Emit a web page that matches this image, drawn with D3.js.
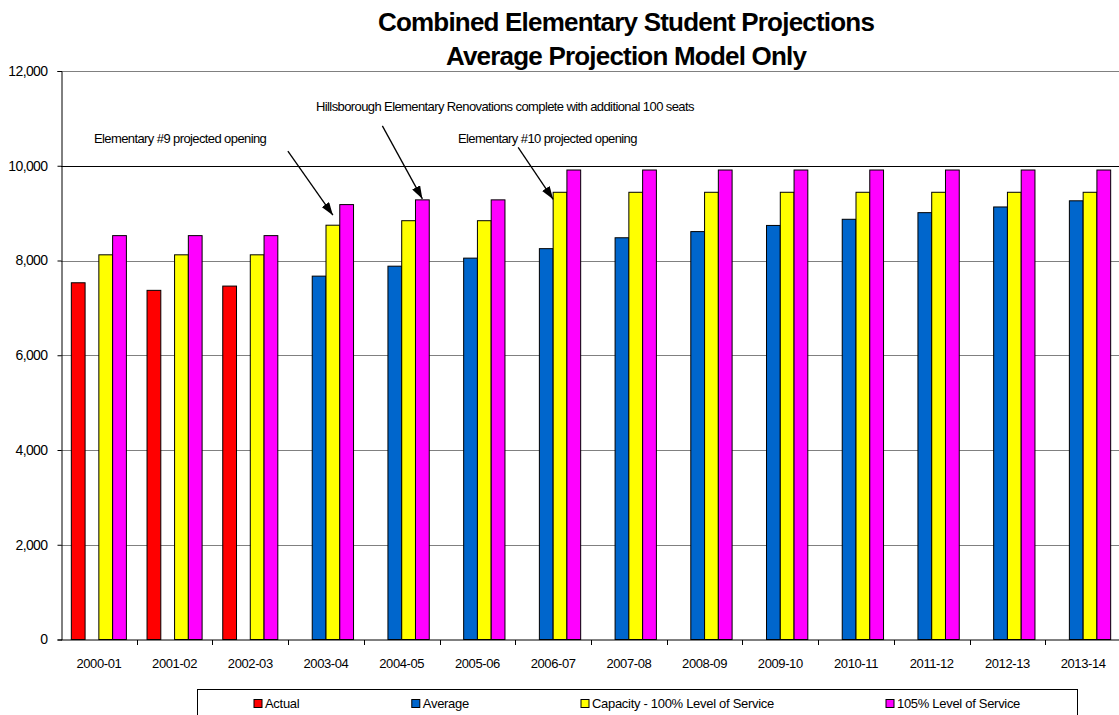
<!DOCTYPE html>
<html>
<head>
<meta charset="utf-8">
<script src="https://cdn.jsdelivr.net/npm/d3@7"></script>
<style>
  html, body { margin: 0; padding: 0; background: #fff; }
  svg { display: block; font-family: "Liberation Sans", Arial, sans-serif; }
</style>
</head>
<body>
<svg id="chart" width="1119" height="715"></svg>
<script>
// School years on the x axis
const years = ["2000-01","2001-02","2002-03","2003-04","2004-05","2005-06","2006-07",
               "2007-08","2008-09","2009-10","2010-11","2011-12","2012-13","2013-14"];

// Enrolment per year (null = no bar)
const actual   = [7530, 7370, 7460, null, null, null, null, null, null, null, null, null, null, null];
const average  = [null, null, null, 7670, 7880, 8050, 8250, 8480, 8610, 8740, 8870, 9010, 9130, 9260];
const capacity = [8120, 8120, 8120, 8745, 8840, 8840, 9440, 9440, 9440, 9440, 9440, 9440, 9440, 9440];
const los105   = [8525, 8525, 8525, 9180, 9280, 9280, 9910, 9910, 9910, 9910, 9910, 9910, 9910, 9910];

const seriesNames  = ["Actual", "Average", "Capacity - 100% Level of Service", "105% Level of Service"];
const seriesColors = ["#FF0000", "#0066CC", "#FFFF00", "#FF00FF"];
const yTicks = [0, 2000, 4000, 6000, 8000, 10000, 12000];

const titleLines = ["Combined Elementary Student Projections", "Average Projection Model Only"];

// Notes pointing at particular bars
const notes = [
  { text: "Elementary #9 projected opening", year: "2003-04", series: 2 },
  { text: "Hillsborough Elementary Renovations complete with additional 100 seats", year: "2004-05", series: 3 },
  { text: "Elementary #10 projected opening", year: "2006-07", series: 2 }
];

const seriesValues = [actual, average, capacity, los105];

const svg = d3.select("#chart");
const plot = { left: 61, right: 1121, top: 71, bottom: 639.5 };

const x0 = d3.scaleBand().domain(years).range([plot.left, plot.right]).paddingInner(0).paddingOuter(0);
const x1 = d3.scaleBand().domain(d3.range(seriesNames.length)).range([0, x0.bandwidth()])
  .paddingInner(0).paddingOuter(0.75);
const y = d3.scaleLinear().domain([0, 12000]).range([plot.bottom, plot.top]);

// Title
svg.append("g").selectAll("text").data(titleLines).join("text")
  .attr("x", 626)
  .attr("y", (d, i) => 31 + i * 34)
  .attr("text-anchor", "middle")
  .attr("font-size", 26)
  .attr("font-weight", "bold")
  .attr("letter-spacing", -0.8)
  .attr("fill", "#000")
  .text(d => d);

// Gridlines
svg.append("g").selectAll("line").data(yTicks.filter(d => d > 0)).join("line")
  .attr("x1", plot.left).attr("x2", plot.right)
  .attr("y1", d => Math.round(y(d)) + 0.5).attr("y2", d => Math.round(y(d)) + 0.5)
  .attr("stroke", d => d === 10000 ? "#000" : "#808080")
  .attr("stroke-width", 1);

// Bars
const barData = [];
years.forEach((yr, i) => {
  seriesValues.forEach((vals, s) => {
    if (vals[i] != null) barData.push({ year: yr, s, v: vals[i] });
  });
});
svg.append("g").selectAll("rect").data(barData).join("rect")
  .attr("x", d => x0(d.year) + x1(d.s))
  .attr("y", d => y(d.v))
  .attr("width", x1.bandwidth())
  .attr("height", d => y(0) - y(d.v))
  .attr("fill", d => seriesColors[d.s])
  .attr("stroke", "#000")
  .attr("stroke-width", 1);

// Y axis
const yAxis = d3.axisLeft(y).tickValues(yTicks).tickSize(4).tickPadding(10)
  .tickFormat(d3.format(","));
const gy = svg.append("g").attr("transform", `translate(${plot.left + 0.5},0)`).call(yAxis);
gy.select(".domain").attr("stroke", "#000");
gy.selectAll(".tick line").attr("stroke", "#000");
gy.selectAll(".tick text").attr("font-size", 14).attr("letter-spacing", -0.6)
  .attr("font-family", "Liberation Sans, Arial, sans-serif").attr("fill", "#000");

// X axis: ticks sit on the category boundaries
const gx = svg.append("g").attr("transform", `translate(0,${plot.bottom + 0.5})`);
gx.append("line").attr("x1", plot.left).attr("x2", plot.right).attr("stroke", "#000");
gx.selectAll("line.tick").data(years.slice(1)).join("line")
  .attr("class", "tick")
  .attr("x1", d => Math.round(x0(d)) + 0.5).attr("x2", d => Math.round(x0(d)) + 0.5)
  .attr("y1", 0).attr("y2", 5).attr("stroke", "#000");
gx.selectAll("text").data(years).join("text")
  .attr("x", d => x0(d) + x0.bandwidth() / 2)
  .attr("y", 28)
  .attr("text-anchor", "middle")
  .attr("font-size", 13)
  .attr("letter-spacing", -0.4)
  .attr("fill", "#000")
  .text(d => d);

// Notes with arrows
svg.append("defs").append("marker")
  .attr("id", "arrowhead")
  .attr("viewBox", "0 0 13 9")
  .attr("refX", 13).attr("refY", 4.5)
  .attr("markerWidth", 13).attr("markerHeight", 9)
  .attr("markerUnits", "userSpaceOnUse")
  .attr("orient", "auto")
  .append("path").attr("d", "M0,0 L13,4.5 L0,9 Z").attr("fill", "#000");

const noteLayout = [
  { tx: 94,  ty: 142.5, tip: [0.5, -10], from: [-45, -64] },
  { tx: 316, ty: 110.5, tip: [0.5, -1],  from: [-40, -73] },
  { tx: 458, ty: 142.5, tip: [0.0, 7],   from: [-35, -52] }
];
const gNotes = svg.append("g");
notes.forEach((n, i) => {
  const L = noteLayout[i];
  const idx = years.indexOf(n.year);
  const v = seriesValues[n.series][idx];
  const tipX = x0(n.year) + x1(n.series) + L.tip[0] * x1.bandwidth();
  const tipY = y(v) + L.tip[1];
  gNotes.append("text")
    .attr("x", L.tx).attr("y", L.ty)
    .attr("font-size", 13).attr("letter-spacing", -0.6).attr("fill", "#000")
    .text(n.text);
  gNotes.append("line")
    .attr("x1", tipX + L.from[0]).attr("y1", tipY + L.from[1])
    .attr("x2", tipX).attr("y2", tipY)
    .attr("stroke", "#000").attr("stroke-width", 1.3)
    .attr("marker-end", "url(#arrowhead)");
});

// Legend
const legend = svg.append("g");
legend.append("rect")
  .attr("x", 197.5).attr("y", 689.5).attr("width", 880).attr("height", 40)
  .attr("fill", "#fff").attr("stroke", "#000").attr("stroke-width", 1);
const items = legend.selectAll("g.item").data(seriesNames).join("g").attr("class", "item");
items.append("rect").attr("y", 699.5).attr("width", 8).attr("height", 8)
  .attr("fill", (d, i) => seriesColors[i]).attr("stroke", "#000");
items.append("text").attr("x", 11).attr("y", 707.5)
  .attr("font-size", 13).attr("letter-spacing", -0.3).attr("fill", "#000")
  .text(d => d);
// lay the entries out left to right with equal gaps
const widths = items.nodes().map(n => n.getBBox().width);
const firstX = 254, lastX = 886;
const gap = (lastX - firstX - d3.sum(widths.slice(0, -1))) / (widths.length - 1);
let cx = firstX;
items.each(function (d, i) {
  d3.select(this).attr("transform", `translate(${cx},0)`);
  cx += widths[i] + gap;
});
</script>
</body>
</html>
